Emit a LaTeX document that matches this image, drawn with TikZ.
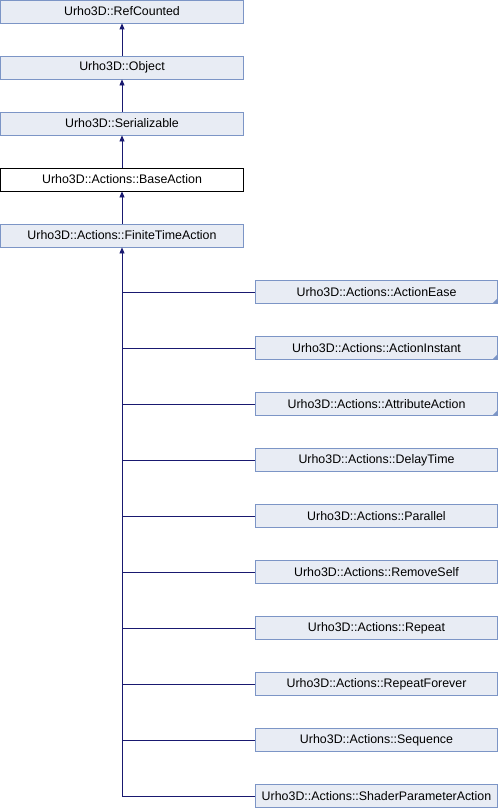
\documentclass[tikz,border=0pt]{standalone}
\usepackage{fontspec}
\setmainfont{Liberation Sans}
\usetikzlibrary{arrows.meta}
\definecolor{boxfill}{HTML}{E8ECF4}
\definecolor{boxline}{HTML}{7C95C6}
\definecolor{edgecol}{HTML}{191970}
\begin{document}
\begin{tikzpicture}[x=1pt,y=-1pt,
  cls/.style={draw=boxline,fill=boxfill,line width=0.8pt,minimum height=23pt,inner sep=0pt,font=\fontsize{12.4}{14}\selectfont},
  leftcls/.style={cls,minimum width=243pt},
  rightcls/.style={cls,minimum width=242pt},
  edge/.style={draw=edgecol,line width=0.8pt},
  inh/.style={edge,-{Triangle[width=5pt,length=6pt]}}]
\useasboundingbox (0,0) rectangle (498,808);
\node[leftcls] (rc) at (122,11.5) {Urho3D::RefCounted};
\node[leftcls] (ob) at (122,67.5) {Urho3D::Object};
\node[leftcls] (se) at (122,123.5) {Urho3D::Serializable};
\node[leftcls,draw=black,fill=white] (ba) at (122,179.5) {Urho3D::Actions::BaseAction};
\node[leftcls] (ft) at (122,235.5) {Urho3D::Actions::FiniteTimeAction};
\draw[inh] (ob) -- (rc);
\draw[inh] (se) -- (ob);
\draw[inh] (ba) -- (se);
\draw[inh] (ft) -- (ba);
\foreach \n/\t/\y in {ae/ActionEase/292,ai/ActionInstant/348,aa/AttributeAction/404,dt/DelayTime/460,pa/Parallel/516,rs/RemoveSelf/572,re/Repeat/628,rf/RepeatForever/684,sq/Sequence/740,sp/ShaderParameterAction/796}{
  \node[rightcls] (\n) at (376.5,\y) {Urho3D::Actions::\t};
}
\foreach \n in {ae,ai,aa}{
  \fill[boxline] (\n.south east) -- ++(0,-6) -- ++(-6,6) -- cycle;
}
\coordinate (jn) at (122,796);
\draw[edge] (sp.west) -- (jn);
\draw[inh] (jn) -- (ft.south);
\foreach \n in {ae,ai,aa,dt,pa,rs,re,rf,sq}{
  \draw[edge] (\n.west) -- (122,0 |- \n.west);
}
\end{tikzpicture}
\end{document}
